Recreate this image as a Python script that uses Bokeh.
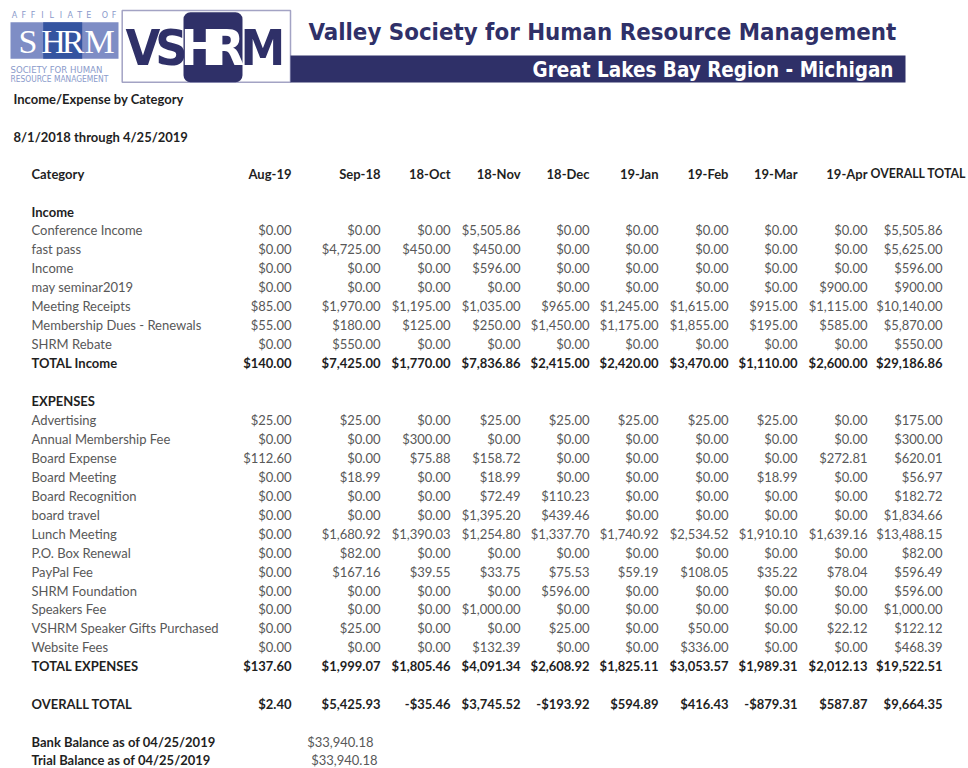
from bokeh.plotting import figure
from bokeh.models import Range1d, ColumnDataSource
from bokeh.core.properties import value
from bokeh.embed import file_html
from bokeh.resources import INLINE

# ---------------- data ----------------
report_title = "Income/Expense by Category"
report_period = "8/1/2018 through 4/25/2019"
months = ["Aug-19", "Sep-18", "18-Oct", "18-Nov", "18-Dec", "19-Jan", "19-Feb", "19-Mar", "19-Apr"]
total_header = "OVERALL TOTAL"

income_categories = ["Conference Income", "fast pass", "Income", "may seminar2019",
                     "Meeting Receipts", "Membership Dues - Renewals", "SHRM Rebate"]
income_values = [
    [0, 0, 0, 5505.86, 0, 0, 0, 0, 0],
    [0, 4725.00, 450.00, 450.00, 0, 0, 0, 0, 0],
    [0, 0, 0, 596.00, 0, 0, 0, 0, 0],
    [0, 0, 0, 0, 0, 0, 0, 0, 900.00],
    [85.00, 1970.00, 1195.00, 1035.00, 965.00, 1245.00, 1615.00, 915.00, 1115.00],
    [55.00, 180.00, 125.00, 250.00, 1450.00, 1175.00, 1855.00, 195.00, 585.00],
    [0, 550.00, 0, 0, 0, 0, 0, 0, 0],
]
income_overall = [5505.86, 5625.00, 596.00, 900.00, 10140.00, 5870.00, 550.00]
income_total = [140.00, 7425.00, 1770.00, 7836.86, 2415.00, 2420.00, 3470.00, 1110.00, 2600.00]
income_total_overall = 29186.86

expense_categories = ["Advertising", "Annual Membership Fee", "Board Expense", "Board Meeting",
                      "Board Recognition", "board travel", "Lunch Meeting", "P.O. Box Renewal",
                      "PayPal Fee", "SHRM Foundation", "Speakers Fee",
                      "VSHRM Speaker Gifts Purchased", "Website Fees"]
expense_values = [
    [25.00, 25.00, 0, 25.00, 25.00, 25.00, 25.00, 25.00, 0],
    [0, 0, 300.00, 0, 0, 0, 0, 0, 0],
    [112.60, 0, 75.88, 158.72, 0, 0, 0, 0, 272.81],
    [0, 18.99, 0, 18.99, 0, 0, 0, 18.99, 0],
    [0, 0, 0, 72.49, 110.23, 0, 0, 0, 0],
    [0, 0, 0, 1395.20, 439.46, 0, 0, 0, 0],
    [0, 1680.92, 1390.03, 1254.80, 1337.70, 1740.92, 2534.52, 1910.10, 1639.16],
    [0, 82.00, 0, 0, 0, 0, 0, 0, 0],
    [0, 167.16, 39.55, 33.75, 75.53, 59.19, 108.05, 35.22, 78.04],
    [0, 0, 0, 0, 596.00, 0, 0, 0, 0],
    [0, 0, 0, 1000.00, 0, 0, 0, 0, 0],
    [0, 25.00, 0, 0, 25.00, 0, 50.00, 0, 22.12],
    [0, 0, 0, 132.39, 0, 0, 336.00, 0, 0],
]
expense_overall = [175.00, 300.00, 620.01, 56.97, 182.72, 1834.66, 13488.15, 82.00,
                   596.49, 596.00, 1000.00, 122.12, 468.39]
expense_total = [137.60, 1999.07, 1805.46, 4091.34, 2608.92, 1825.11, 3053.57, 1989.31, 2012.13]
expense_total_overall = 19522.51

overall_values = [2.40, 5425.93, -35.46, 3745.52, -193.92, 594.89, 416.43, -879.31, 587.87]
overall_total = 9664.35

bank_balance = 33940.18
trial_balance = 33940.18
balance_date = "04/25/2019"

# ---------------- layout / style ----------------
W, H = 968, 768
X0, Y0 = 0, 0           # data units == page pixels
LABEL_X = 31
COL_RIGHT = [291, 380, 450, 520, 589, 658, 728, 797, 867, 942]
TOTAL_HEADER_X = 870
ROW_H = 18.95
FONT = "Lato"
FS = "13px"
GREY = "#585858"
DARK = "#1f1f1f"
NAVY = "#2f3068"
LOGO_LIGHT = "#8a9acb"


def money(v):
    s = "${:,.2f}".format(abs(v))
    return "-" + s if v < 0 else s


p = figure(width=W, height=H, output_backend="svg", toolbar_location=None,
           x_range=Range1d(X0, X0 + W), y_range=Range1d(Y0 + H, Y0),
           min_border=0, outline_line_color=None,
           x_axis_location=None, y_axis_location=None)
p.grid.visible = False
p.background_fill_color = "white"
p.border_fill_color = "white"

# ---------- logo: SHRM affiliate block ----------
p.quad(left=10, right=118, top=21.7, bottom=58.3, fill_color="#7e8dc5", line_color=None)
p.quad(left=42.7, right=81.7, top=21.7, bottom=58.3, fill_color="#3454a0", line_color=None)
p.text(x=[27.5, 53, 72.5, 99], y=[41, 41, 41, 41], text=["S", "H", "R", "M"],
       text_font=value("Liberation Serif"), text_font_size=value("34px"),
       text_color="white", text_align="center", text_baseline="middle")
aff_letters = list("AFFILIATE") + ["O", "F"]
aff_x = [14 + 9.3 * i for i in range(9)] + [104.5, 113.5]
p.text(x=aff_x, y=[14.5] * len(aff_x), text=aff_letters,
       text_font=value("DejaVu Sans"), text_font_size=value("8px"),
       text_color=LOGO_LIGHT, text_align="center", text_baseline="middle")
p.text(x=[10], y=[68.5], text=["SOCIETY FOR HUMAN"],
       text_font=value("DejaVu Sans Condensed"), text_font_size=value("9.5px"),
       text_color=LOGO_LIGHT, text_align="left", text_baseline="middle")
p.text(x=[10], y=[78], text=["RESOURCE MANAGEMENT"],
       text_font=value("DejaVu Sans Condensed"), text_font_size=value("8.4px"),
       text_color=LOGO_LIGHT, text_align="left", text_baseline="middle")

# ---------- logo: VSHRM block ----------
p.quad(left=121.7, right=290, top=10, bottom=81.7, fill_color="white",
       line_color="#a3a3c4", line_width=1.5)
p.quad(left=183, right=242, top=11.7, bottom=81.7, fill_color=NAVY, line_color=None,
       border_radius=7)
p.text(x=[142.5, 171, 199, 226.5, 262.5], y=[47, 47, 47, 47, 47],
       text=["V", "S", "H", "R", "M"],
       text_color=[NAVY, NAVY, "white", "white", NAVY],
       text_font=value("DejaVu Sans Condensed"), text_font_style="bold",
       text_font_size=value("50px"), text_align="center", text_baseline="middle")

# ---------- banner ----------
p.quad(left=290, right=905, top=55, bottom=82, fill_color=NAVY, line_color=None)
p.text(x=[308], y=[31], text=["Valley Society for Human Resource Management"],
       text_font=value("DejaVu Sans Condensed"), text_font_style="bold",
       text_font_size=value("23.8px"), text_color=NAVY, text_align="left",
       text_baseline="middle")
p.text(x=[893], y=[69.5], text=["Great Lakes Bay Region - Michigan"],
       text_font=value("DejaVu Sans Condensed"), text_font_style="bold",
       text_font_size=value("20.5px"), text_color="white", text_align="right",
       text_baseline="middle")

# ---------- table texts ----------
normal_l = dict(x=[], y=[], text=[])
normal_r = dict(x=[], y=[], text=[])
bold_l = dict(x=[], y=[], text=[])
bold_r = dict(x=[], y=[], text=[])


def add(d, x, y, t):
    d["x"].append(x)
    d["y"].append(y)
    d["text"].append(t)


add(bold_l, 13, 98.3, report_title)
add(bold_l, 13, 136.5, report_period)

# header row
HEADER_Y = 173
add(bold_l, LABEL_X, HEADER_Y, "Category")
for m, cx in zip(months, COL_RIGHT):
    add(bold_r, cx, HEADER_Y, m)
# the overall-total header hugs the right edge of the page
p.text(x=[TOTAL_HEADER_X], y=[HEADER_Y], text=[total_header],
       text_font=value(FONT), text_font_size=value("12.3px"), text_font_style="bold",
       text_color=DARK, text_align="left", text_baseline="middle")


def data_rows(title, y_title, cats, vals, overall, tot_label, tot_vals, tot_overall):
    add(bold_l, LABEL_X, y_title, title)
    yy = y_title + ROW_H
    for cat, row, ov in zip(cats, vals, overall):
        add(normal_l, LABEL_X, yy, cat)
        for v, cx in zip(row + [ov], COL_RIGHT):
            add(normal_r, cx, yy, money(v))
        yy += ROW_H
    add(bold_l, LABEL_X, yy, tot_label)
    for v, cx in zip(tot_vals + [tot_overall], COL_RIGHT):
        add(bold_r, cx, yy, money(v))


data_rows("Income", 211, income_categories, income_values, income_overall,
          "TOTAL Income", income_total, income_total_overall)
data_rows("EXPENSES", 400.5, expense_categories, expense_values, expense_overall,
          "TOTAL EXPENSES", expense_total, expense_total_overall)

y = 703
add(bold_l, LABEL_X, y, "OVERALL TOTAL")
for v, cx in zip(overall_values + [overall_total], COL_RIGHT):
    add(bold_r, cx, y, money(v))

add(bold_l, LABEL_X, 741, "Bank Balance as of " + balance_date)
add(normal_r, 373, 741, money(bank_balance))
add(bold_l, LABEL_X, 759.5, "Trial Balance as of " + balance_date)
add(normal_r, 377, 759.5, money(trial_balance))

for d, align, style, color in [(normal_l, "left", "normal", GREY),
                               (normal_r, "right", "normal", GREY),
                               (bold_l, "left", "bold", DARK),
                               (bold_r, "right", "bold", DARK)]:
    p.text(x="x", y="y", text="text", source=ColumnDataSource(d),
           text_font=value(FONT), text_font_size=value(FS), text_font_style=style,
           text_color=color, text_align=align, text_baseline="middle")

open("out.html", "w").write(file_html(p, INLINE))
